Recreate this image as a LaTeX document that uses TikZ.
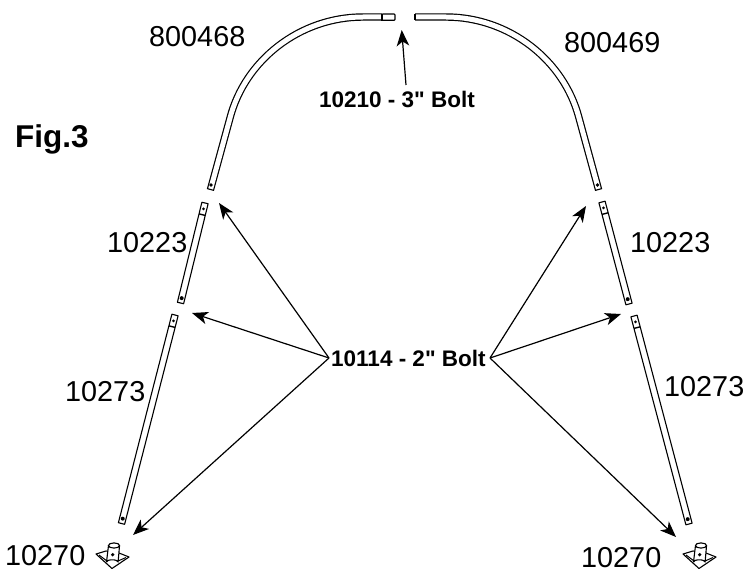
\documentclass[tikz,border=0pt]{standalone}
\usepackage{fontspec}
\newfontfamily\plainsans{Liberation Sans}
\usetikzlibrary{arrows.meta,calc}
\tikzset{
  lbl/.style={anchor=base west,inner sep=0pt,font=\plainsans\fontsize{28.8}{30}\selectfont},
  boltlbl/.style={anchor=base west,inner sep=0pt,font=\plainsans\fontsize{22.5}{24}\selectfont\bfseries},
  figlbl/.style={anchor=base west,inner sep=0pt,font=\plainsans\fontsize{31.5}{33}\selectfont\bfseries},
  part/.style={draw=black,line width=1.1pt,fill=white,line join=round},
  archtube/.style={draw=black,line width=1.2pt,double=white,double distance=5pt,line cap=butt},
  pin/.style={fill=black,draw=none},
  leader/.style={draw=black,line width=1.2pt,-{Stealth[length=16pt,width=12.5pt,inset=4.5pt]}}
}
\newcommand{\tubepart}[2]{%
  \draw[part] ($(#1)!3.2pt!90:(#2)$) -- ($(#2)!3.2pt!-90:(#1)$) -- ($(#2)!3.2pt!90:(#1)$) -- ($(#1)!3.2pt!-90:(#2)$) -- cycle;
  \draw[line width=1.4pt] ($($(#1)!12pt!(#2)$)!3.2pt!90:(#2)$) -- ($($(#1)!12pt!(#2)$)!3.2pt!-90:(#2)$);
  \fill[pin] ($(#1)!6pt!(#2)$) circle (1.5pt);
  \fill[pin] ($(#2)!5pt!(#1)$) circle (2pt);
}
\newcommand{\footpart}[2]{%
  \begin{scope}[shift={(#1,#2)}]
    \draw[part] (-16,-2) -- (-6,-5) -- (7,-3) -- (17,1) -- (0,12.5) -- cycle;
    \draw[line width=1pt] (-13,-1) -- (-5,5);
    \draw[line width=1pt] (14,1.5) -- (6,5);
    \draw[part] (-3.5,-10.5) -- (-5.5,6) arc[start angle=180,end angle=360,x radius=5.8,y radius=2.2] -- (7.5,-10);
    \draw[part] (2,-10.5) ellipse[x radius=5.6,y radius=2.6];
    \fill[pin] (0.7,-1.3) circle (1.8pt);
  \end{scope}
}
\begin{document}
\begin{tikzpicture}[x=1pt,y=-1pt]
\useasboundingbox (0,0) rectangle (749,569);
% coordinates of the parts
\coordinate (lab) at (210.5,189.5);
\coordinate (rab) at (598.5,189.5);
\coordinate (lma) at (205,203); \coordinate (lmb) at (180.5,303);
\coordinate (lla) at (175,315); \coordinate (llb) at (121.5,523.5);
\coordinate (rma) at (602,202); \coordinate (rmb) at (629,304);
\coordinate (rla) at (634,316); \coordinate (rlb) at (689,524);
% arches
\draw[archtube] (lab) -- (230,118) .. controls (245,60) and (300,17) .. (363,17) -- (382,17);
\draw[line width=1.1pt] ($(lab)!3.6pt!90:(230,118)$) -- ($(lab)!3.6pt!-90:(230,118)$);
\fill[pin] (211,185) circle (1.8pt);
\draw[part,rounded corners=0.8pt] (382,14) rectangle (395,20.3);
\draw[line width=1.5pt] (382,13.6) -- (382,20.6);
\draw[archtube] (rab) -- (579,118) .. controls (564,60) and (509,17) .. (446,17) -- (415,17);
\draw[line width=1.1pt] ($(rab)!3.6pt!90:(579,118)$) -- ($(rab)!3.6pt!-90:(579,118)$);
\draw[line width=1.1pt] (415,13.6) -- (415,20.4);
\fill[pin] (597.5,185) circle (1.8pt);
% tubes
\tubepart{lma}{lmb}
\tubepart{lla}{llb}
\tubepart{rma}{rmb}
\tubepart{rla}{rlb}
% feet
\footpart{112}{556}
\footpart{699}{556}
% labels
\node[lbl] (n800468) at (149,47) {800468};
\node[lbl] (n800469) at (564,53) {800469};
\node[figlbl] (fig) at (15,148) {Fig.3};
\node[lbl] (l10223) at (107,253) {10223};
\node[lbl] (r10223) at (630,253) {10223};
\node[lbl] (l10273) at (65,401) {10273};
\node[lbl] (r10273) at (664,396) {10273};
\node[lbl] (l10270) at (5,565) {10270};
\node[lbl] (r10270) at (581,567) {10270};
\node[boltlbl] (b3) at (319,108) {10210 - 3" Bolt};
\node[boltlbl] (b2) at (331,366) {10114 - 2" Bolt};
% leader ends
\coordinate (b3s) at (406,85);
\coordinate (b3t) at (401.7,30);
\coordinate (b2l) at (329,358);
\coordinate (b2r) at (490,358);
\coordinate (t1) at (219,203);
\coordinate (t2) at (192,313);
\coordinate (t3) at (133,535);
\coordinate (t4) at (586,206);
\coordinate (t5) at (621,314);
\coordinate (t6) at (676,537);
\draw[leader] (b3s) -- (b3t);
\draw[leader] (b2l) -- (t1);
\draw[leader] (b2l) -- (t2);
\draw[leader] (b2l) -- (t3);
\draw[leader] (b2r) -- (t4);
\draw[leader] (b2r) -- (t5);
\draw[leader] (b2r) -- (t6);
\end{tikzpicture}
\end{document}
